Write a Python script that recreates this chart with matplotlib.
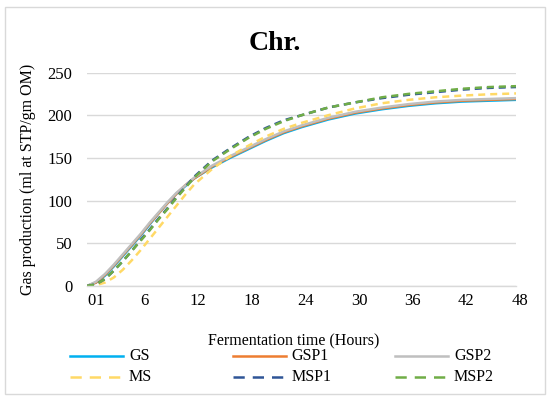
import matplotlib
matplotlib.use("Agg")
import matplotlib.pyplot as plt
from matplotlib.lines import Line2D
from matplotlib.patches import Rectangle
from matplotlib.transforms import ScaledTranslation

plt.rcParams["font.family"] = ["Liberation Serif", "DejaVu Serif"]

# horas de muestreo
horas = [0, 1, 2, 3, 4, 5, 6, 7, 8, 9, 10, 11, 12, 14, 16, 18, 20, 22, 24,
         27, 30, 33, 36, 39, 42, 45, 48]

gs = [0, 4, 12, 23, 35, 47, 59, 72, 85, 97, 108, 117, 126, 139, 150, 160, 170,
      179, 186, 195, 202, 207, 211, 214, 216, 217, 218]
gsp1 = [0, 4, 13, 24, 36, 48, 60, 73, 85, 97, 108, 118, 126, 140, 151, 161, 171,
        180, 187, 196, 203, 208, 212, 215, 217, 218, 219]
gsp2 = [0, 5, 14, 25, 37, 49, 61, 74, 86, 98, 109, 118, 127, 141, 152, 162, 172,
        181, 188, 197, 204, 209, 213, 216, 218, 219, 220]
ms = [0, 1, 4, 10, 19, 30, 42, 55, 68, 81, 94, 107, 119, 137, 152, 164, 175,
      184, 191, 200, 208, 214, 218, 221, 223, 224.5, 225.5]
msp1 = [0, 2, 8, 18, 29, 41, 54, 66, 79, 91, 104, 116, 128, 147, 161, 174, 185,
        194, 200, 209, 215, 220, 224, 227, 230, 232, 233]
msp2 = [0, 2, 8, 18, 29, 41, 53, 65, 78, 90, 103, 115, 127, 146, 160, 173, 184,
        193, 200, 209, 215, 221, 225, 228, 231, 233, 234]

series = [
    ("GS", gs, "#00B0F0", "-"),
    ("GSP1", gsp1, "#ED7D31", "-"),
    ("GSP2", gsp2, "#BFBFBF", "-"),
    ("MS", ms, "#FFD966", "--"),
    ("MSP1", msp1, "#2F5597", "--"),
    ("MSP2", msp2, "#70AD47", "--"),
]

xticks = [0, 1, 6, 12, 18, 24, 30, 36, 42, 48]
yticks = [0, 50, 100, 150, 200, 250]

fig = plt.figure(figsize=(5.5, 3.98), dpi=100)
ax = fig.add_axes([0.1582, 0.2814, 0.78, 0.5364])

for nombre, datos, color, estilo in series:
    ls = "-" if estilo == "-" else (0, (2.8, 2.0))
    ax.plot(horas, datos, color=color, lw=1.8, linestyle=ls, label=nombre,
            solid_capstyle="butt")

ax.set_xlim(0, 48)
ax.set_ylim(0, 250)
ax.set_xticks(xticks)
ax.set_xticklabels([str(t) for t in xticks])
ax.set_yticks(yticks)
ax.grid(True, axis="y", color="#D9D9D9", lw=1.0)
ax.set_axisbelow(True)
for s in ["top", "right", "left"]:
    ax.spines[s].set_visible(False)
ax.spines["bottom"].set_color("#D9D9D9")
ax.spines["bottom"].set_linewidth(1.0)
ax.tick_params(length=0, labelsize=12, colors="black")
ax.tick_params(axis="y", pad=10.5)
ax.tick_params(axis="x", pad=5)
for lab in ax.get_xticklabels():
    lab.set_transform(lab.get_transform() + ScaledTranslation(0.04, 0, fig.dpi_scale_trans))

fig.text(0.5, 0.89, "Chr.", ha="center", va="center", fontsize=20, fontweight="bold")
fig.text(28 / 550, 1 - 179 / 398, "Gas production (ml at STP/gm OM)", rotation=90,
         ha="center", va="center", fontsize=11.5)
fig.text(294 / 550, 1 - 341 / 398, "Fermentation time (Hours)", ha="center",
         va="center", fontsize=11.5)

# leyenda a mano, 3 columnas x 2 filas
col_x = [70, 232.6, 395]
fila_y = [356, 377]
for i, (nombre, datos, color, estilo) in enumerate(series):
    x0 = col_x[i % 3]
    y0 = fila_y[i // 3]
    ls = "-" if estilo == "-" else (0, (4.5, 3.2))
    fig.add_artist(Line2D([x0 / 550, (x0 + 53) / 550], [1 - y0 / 398, 1 - y0 / 398],
                          color=color, lw=1.8, linestyle=ls, transform=fig.transFigure))
    fig.text((x0 + 59) / 550, 1 - y0 / 398, nombre, ha="left", va="center", fontsize=11.5)

fig.add_artist(Rectangle((5 / 550, 1 - 394 / 398), 540 / 550, 387 / 398,
                         transform=fig.transFigure, fill=False, ec="#D9D9D9", lw=1.0))

fig.savefig("out.png", dpi=100)
